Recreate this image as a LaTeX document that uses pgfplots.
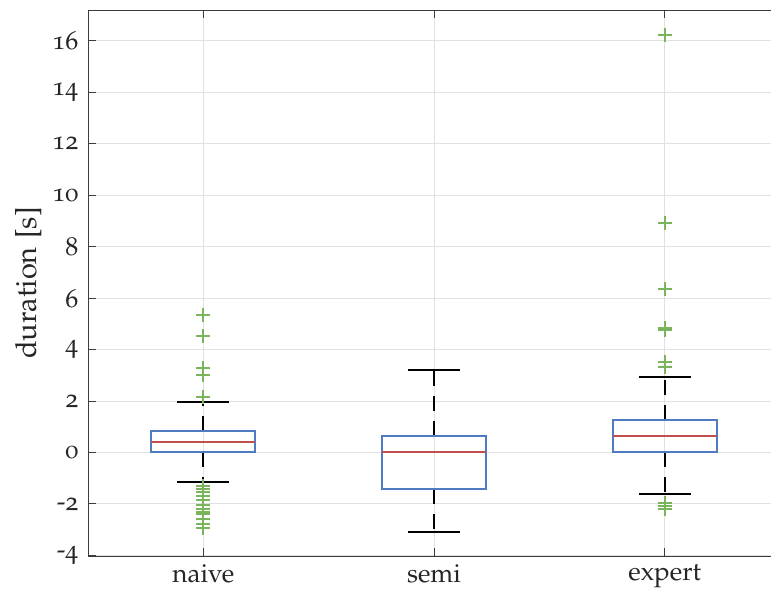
\documentclass[border=0pt]{standalone}
\usepackage[T1]{fontenc}
\usepackage[osf]{mathpazo}
\usepackage{pgfplots}
\pgfplotsset{compat=1.18}
\usepgfplotslibrary{statistics}
\definecolor{boxblue}{RGB}{79,123,192}
\definecolor{medred}{RGB}{192,80,77}
\definecolor{outgreen}{RGB}{122,181,92}
\definecolor{gridgray}{RGB}{225,225,225}
\definecolor{axgray}{RGB}{60,60,60}
\definecolor{txtgray}{RGB}{38,38,38}
\begin{document}
\begin{tikzpicture}
\begin{axis}[
  scale only axis,
  width=692pt, height=546pt,
  xmin=0.5, xmax=3.5, ymin=-4.03, ymax=17.2,
  xtick={1,2,3}, xticklabels={naive,semi,expert},
  ytick={-4,-2,...,16},
  tick align=inside,
  major tick length=8pt,
  tick style={axgray, line width=0.8pt},
  axis line style={axgray, line width=0.9pt},
  grid=major,
  major grid style={gridgray, line width=0.8pt},
  /pgf/number format/assume math mode=true,
  ticklabel style={font=\fontsize{26}{30}\selectfont, text=txtgray},
  xticklabel style={yshift=-5pt},
  yticklabel style={xshift=-6pt},
  ylabel={duration [s]},
  ylabel style={font=\fontsize{29}{34}\selectfont, text=txtgray, yshift=4pt},
  boxplot/draw direction=y,
  boxplot/box extend=0.45,
  boxplot/whisker extend=0.225,
  boxplot/every box/.style={draw=boxblue, line width=2pt},
  boxplot/every median/.style={draw=medred, line width=2pt},
  boxplot/draw/lower whisker/.code={
    \draw[black, line width=2pt, dash pattern=on 15pt off 10pt]
      (boxplot cs:\pgfplotsboxplotvalue{lower quartile}) -- (boxplot cs:\pgfplotsboxplotvalue{lower whisker});
    \draw[black, line width=2pt]
      (boxplot whisker cs:\pgfplotsboxplotvalue{lower whisker},0) -- (boxplot whisker cs:\pgfplotsboxplotvalue{lower whisker},1);
  },
  boxplot/draw/upper whisker/.code={
    \draw[black, line width=2pt, dash pattern=on 15pt off 10pt]
      (boxplot cs:\pgfplotsboxplotvalue{upper quartile}) -- (boxplot cs:\pgfplotsboxplotvalue{upper whisker});
    \draw[black, line width=2pt]
      (boxplot whisker cs:\pgfplotsboxplotvalue{upper whisker},0) -- (boxplot whisker cs:\pgfplotsboxplotvalue{upper whisker},1);
  },
]
\coordinate (sw) at (rel axis cs:0,0);
\coordinate (ne) at (rel axis cs:1,1);
% naive
\addplot[mark=+, mark size=7pt, mark options={outgreen, line width=2pt},
  boxplot prepared={draw position=1, lower whisker=-1.17, lower quartile=0.0,
    median=0.42, upper quartile=0.82, upper whisker=1.94}]
  table[row sep=\\, y index=0] {
  5.35\\ 4.52\\ 3.28\\ 3.0\\ 2.14\\
  -1.3\\ -1.42\\ -1.55\\ -1.7\\ -1.85\\ -2.05\\ -2.2\\ -2.3\\ -2.4\\ -2.6\\ -2.8\\ -2.95\\
  };
% semi
\addplot[mark=+, mark size=7pt, mark options={outgreen, line width=2pt},
  boxplot prepared={draw position=2, lower whisker=-3.11, lower quartile=-1.44,
    median=0.02, upper quartile=0.62, upper whisker=3.22}]
  coordinates {};
% expert
\addplot[mark=+, mark size=7pt, mark options={outgreen, line width=2pt},
  boxplot prepared={draw position=3, lower whisker=-1.63, lower quartile=0.0,
    median=0.62, upper quartile=1.24, upper whisker=2.93}]
  table[row sep=\\, y index=0] {
  16.23\\ 8.93\\ 6.37\\ 4.82\\ 4.75\\ 3.53\\ 3.32\\
  -1.95\\ -2.07\\ -2.2\\
  };
\end{axis}
\pgfresetboundingbox
\path ([xshift=-88pt,yshift=-41pt]sw) rectangle ([xshift=-9pt,yshift=10pt]ne);
\end{tikzpicture}
\end{document}
